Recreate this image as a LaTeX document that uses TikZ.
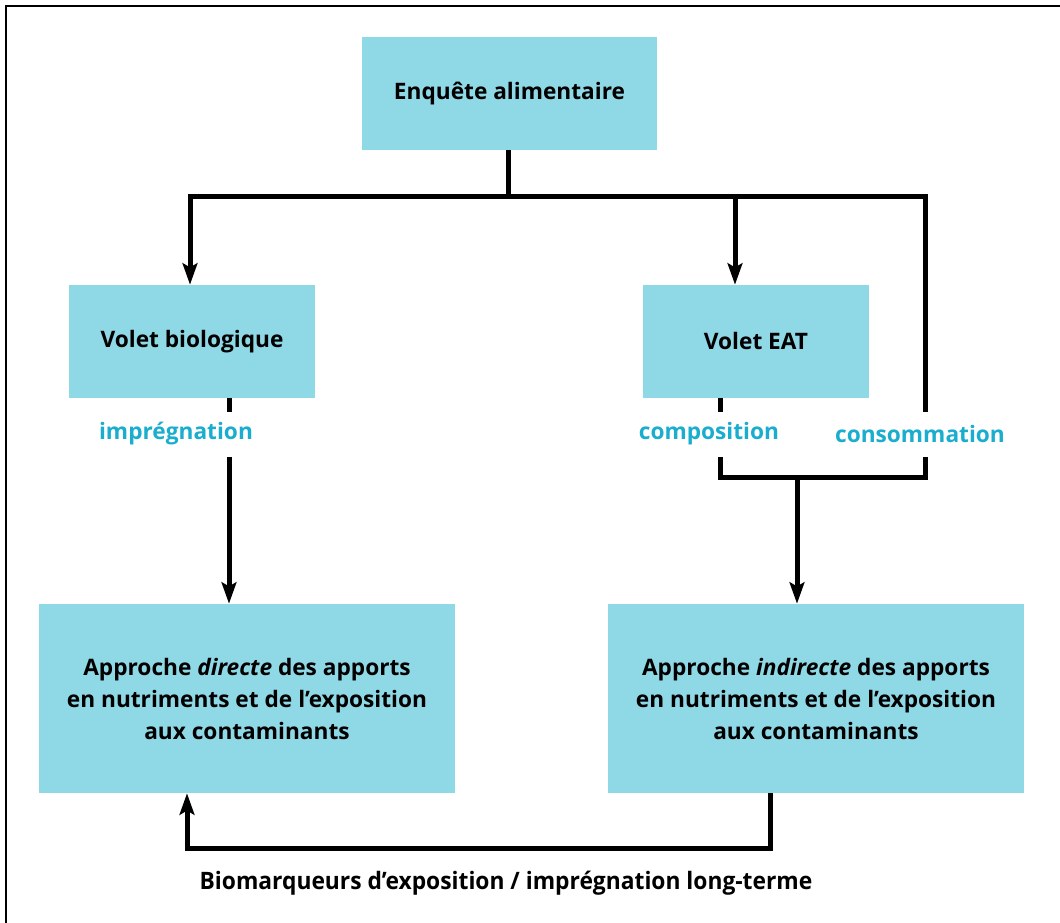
\documentclass[tikz,border=0pt]{standalone}
\usepackage{fontspec}
\setmainfont{Open Sans}
\newfontfamily\condfont[FakeStretch=0.95]{Open Sans}
\usetikzlibrary{arrows.meta}
\definecolor{boite}{HTML}{8FD8E6}
\definecolor{etiq}{HTML}{1AADCE}
\tikzset{
  boite/.style={fill=boite,align=center,inner sep=0pt,font=\bfseries\fontsize{17}{24}\selectfont},
  etiq/.style={text=etiq,inner sep=0pt,font=\bfseries\fontsize{17}{20}\selectfont},
  lien/.style={line width=3.75pt},
  fleche/.style={lien,-{Stealth[length=16pt,width=11pt,inset=3pt]}}
}
\begin{document}
\begin{tikzpicture}[x=0.75pt,y=-0.75pt]
\useasboundingbox (0,0) rectangle (1060,923);
\draw[line width=1.5pt] (6,923) -- (6,6) -- (1060,6);
\node[boite,minimum width=221.25pt,minimum height=84.75pt] (enquete) at (509.5,93.5) {Enquête alimentaire};
\node[boite,minimum width=184.5pt,minimum height=84.75pt] (bio) at (192,341.5) {Volet biologique};
\node[boite,minimum width=169.5pt,minimum height=84.75pt] (eat) at (756,341.5) {Volet EAT};
\node[boite,minimum width=312pt,minimum height=141.75pt] (directe) at (247,698.5)
  {Approche \textit{directe} des apports\\en nutriments et de l’exposition\\aux contaminants};
\node[boite,minimum width=312pt,minimum height=141.75pt] (indirecte) at (816,698.5)
  {Approche \textit{indirecte} des apports\\en nutriments et de l’exposition\\aux contaminants};
\node[etiq] (impregnation) at (176,434) {imprégnation};
\node[etiq] (composition) at (709,434) {composition};
\node[etiq] (consommation) at (920,434) {consommation};
\node[font=\condfont\bfseries\fontsize{18}{20}\selectfont,inner sep=0pt] (biomarqueurs) at (506,883)
  {Biomarqueurs d’exposition / imprégnation long-terme};
\coordinate (split) at (508,197);
\coordinate (b1) at (229,412); \coordinate (b2) at (229,457);
\coordinate (c1) at (720,412); \coordinate (c2) at (720,457);
\coordinate (k1) at (925,412); \coordinate (k2) at (925,457);
\coordinate (join) at (797,477);
\coordinate (r1) at (770,848); \coordinate (l1) at (187,848);
\draw[lien] (enquete.south -| split) -- (split);
\draw[fleche] (split) -| (bio.north -| 190,0);
\draw[fleche] (split) -| ([xshift=-15.75pt]eat.north);
\draw[lien] (split) -| (k1);
\draw[lien] (bio.south -| b1) -- (b1);
\draw[fleche] (b2) -- (directe.north -| b2);
\draw[lien] (eat.south -| c1) -- (c1);
\draw[lien] (c2) |- (join) -| (k2);
\draw[fleche] (join) -- (indirecte.north -| join);
\draw[fleche] (indirecte.south -| r1) -- (r1) -- (l1) -- (directe.south -| l1);
\end{tikzpicture}
\end{document}
